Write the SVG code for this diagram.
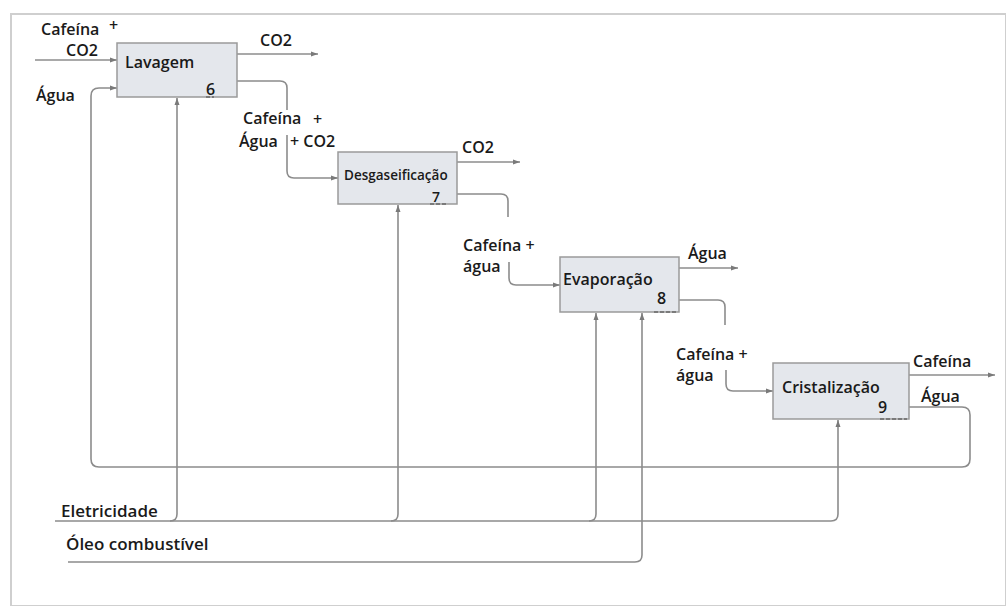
<svg xmlns="http://www.w3.org/2000/svg" width="1006" height="606" viewBox="0 0 1006 606">
<style>
.box{fill:#e4e7ec;stroke:#9a9a9a;stroke-width:1.5}
.mk{fill:none;stroke:#6a6a6a;stroke-width:1.5;stroke-dasharray:4 2}
.ln{fill:none;stroke:#8c8c8c;stroke-width:1.6}
.arr{marker-end:url(#ah)}
text{font-family:"Open Sans","Liberation Sans",sans-serif;font-weight:600;font-size:16px;fill:#1a1a1a}
.sm{font-size:13.5px}
.nm{font-size:14px}
.lg{font-size:17px}
</style>
<defs>
<marker id="ah" markerWidth="8" markerHeight="6" refX="7" refY="3" orient="auto" markerUnits="userSpaceOnUse">
<path d="M0,0.5 L7,3 L0,5.5 Z" fill="#7a7a7a"/>
</marker>
</defs>
<rect x="0" y="0" width="1006" height="606" fill="#ffffff"/>
<rect x="11" y="14" width="995" height="592" fill="none" stroke="#cfcfcf" stroke-width="2"/>
<g id="connectors">
<path class="ln arr" d="M35,60 L117,60"/>
<path class="ln arr" d="M237,54 L318,54"/>
<path class="ln arr" d="M457,162 L520,162"/>
<path class="ln arr" d="M679,268 L738,268"/>
<path class="ln arr" d="M909,375 L995,375"/>
<path class="ln arr" d="M909,407 L962,407 Q970,407 970,415 L970,459 Q970,467 962,467 L99,467 Q91,467 91,459 L91,96 Q91,88 99,88 L117,88"/>
<path class="ln" d="M237,81 L280,81 Q287,81 287,88 L287,110"/>
<path class="ln arr" d="M287,135 L287,171 Q287,178 294,178 L338,178"/>
<path class="ln" d="M457,194 L501,194 Q508,194 508,201 L508,217"/>
<path class="ln arr" d="M509,262 L509,278 Q509,285 516,285 L560,285"/>
<path class="ln" d="M679,300 L718,300 Q725,300 725,307 L725,325"/>
<path class="ln arr" d="M726,370 L726,384 Q726,391 733,391 L773,391"/>
<path class="ln arr" d="M55,521 L831,521 Q838,521 838,514 L838,420"/>
<path class="ln arr" d="M170,521 Q177,521 177,514 L177,98"/>
<path class="ln arr" d="M391,521 Q398,521 398,514 L398,205"/>
<path class="ln arr" d="M589,521 Q596,521 596,514 L596,313"/>
<path class="ln arr" d="M68,562 L635,562 Q642,562 642,555 L642,313"/>
</g>
<g id="n6">
<rect class="box" x="117" y="43" width="120" height="54"/>
<path class="mk" d="M206,97 L214,97"/>
<text x="125" y="68">Lavagem</text>
<text x="206" y="95">6</text>
</g>
<g id="n7">
<rect class="box" x="338" y="152" width="119" height="52"/>
<path class="mk" d="M430,204 L446,204"/>
<text class="sm" x="344" y="180">Desgaseificação</text>
<text class="nm" x="432" y="202">7</text>
</g>
<g id="n8">
<rect class="box" x="560" y="257" width="119" height="55"/>
<path class="mk" d="M654,312 L676,312"/>
<text x="563" y="285">Evaporação</text>
<text x="657" y="304">8</text>
</g>
<g id="n9">
<rect class="box" x="773" y="363" width="136" height="56"/>
<path class="mk" d="M880,419 L907,419"/>
<text x="782" y="393">Cristalização</text>
<text x="878" y="413">9</text>
</g>
<g id="labels">
<text x="41" y="35">Cafeína</text>
<text x="109" y="31">+</text>
<text x="66" y="56">CO2</text>
<text x="36" y="101">Água</text>
<text x="260" y="46">CO2</text>
<text x="243" y="124">Cafeína</text>
<text x="313" y="125">+</text>
<text x="239" y="147">Água</text>
<text x="290" y="147">+ CO2</text>
<text x="462" y="153">CO2</text>
<text x="463" y="251">Cafeína +</text>
<text x="463" y="272">água</text>
<text x="688" y="259">Água</text>
<text x="676" y="360">Cafeína +</text>
<text x="676" y="381">água</text>
<text x="913" y="367">Cafeína</text>
<text x="921" y="402">Água</text>
<text class="lg" x="61" y="517">Eletricidade</text>
<text class="lg" x="66" y="550">Óleo combustível</text>
</g>
</svg>
